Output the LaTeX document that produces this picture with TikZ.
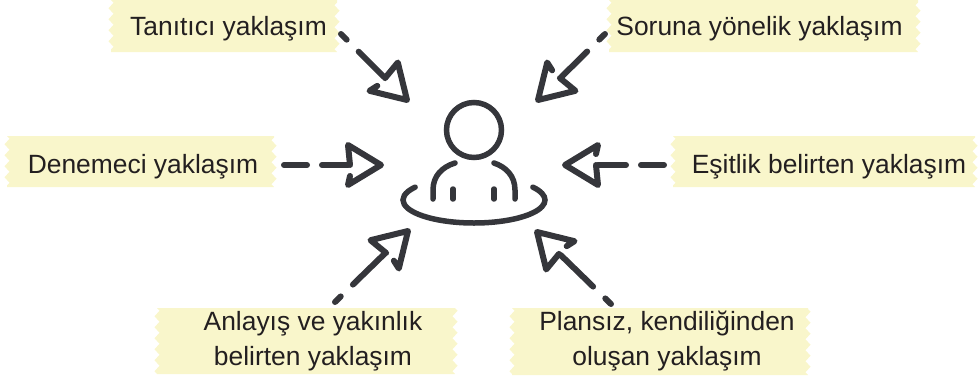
\documentclass[tikz,border=0pt]{standalone}
\usepackage{fontspec}
\setmainfont{Liberation Sans}
\usepackage{tikz}
\usetikzlibrary{calc,backgrounds,decorations.pathmorphing}
\definecolor{TapeFill}{HTML}{F9F6CB}
\definecolor{InkDark}{HTML}{35363B}
\definecolor{TextDark}{HTML}{231F20}
\tikzset{
    tape/.style = {fill=TapeFill, decoration={zigzag, segment length=11pt, amplitude=2.5pt}},
    lbl/.style = {anchor=base, align=center, text=TextDark, inner sep=0pt, font=\fontsize{26.4}{35}\selectfont},
    flow/.style = {draw=InkDark, line width=6pt, line cap=round},
    flowdiag/.style = {flow, dash pattern=on 8pt off 17pt on 200pt, shorten >=33pt},
    flowflat/.style = {flow, dash pattern=on 23pt off 15pt on 200pt, shorten >=33pt},
    head/.style = {draw=InkDark, line width=6pt, line cap=round, line join=round},
    body/.style = {draw=InkDark, line width=5.5pt, line cap=round}
}
\def\openhead{%
    (-31,11) -- (-33,20) -- (0,0) -- (-33,-20) -- (-31,0)
}
\begin{document}
\begin{tikzpicture}[x=1pt,y=-1pt]
    \useasboundingbox (0,0) rectangle (978,380);
    \foreach \xa/\ya/\xb/\yb in {111/0/337/52, 609/0/918/52, 7/136/274/187, 673/136/975/187, 157/308/455/374, 512/308/808/375}
        \fill [tape] (\xa,\ya) decorate {-- (\xa,\yb)} -- (\xb,\yb) decorate {-- (\xb,\ya)} -- cycle;
    \node [lbl] (tanitici) at (228.5,35) {Tanıtıcı yaklaşım};
    \node [lbl] (soruna) at (759.5,35) {Soruna yönelik yaklaşım};
    \node [lbl] (denemeci) at (143,173) {Denemeci yaklaşım};
    \node [lbl] (esitlik) at (829,173) {Eşitlik belirten yaklaşım};
    \node [lbl] (anlayis) at (313,365) {Anlayış ve yakınlık\\belirten yaklaşım};
    \node [lbl] (plansiz) at (667,365) {Plansız, kendiliğinden\\oluşan yaklaşım};
    % person in the middle
    \node [body, circle, draw, minimum size=55pt, inner sep=0pt] (kafa) at (474,130) {};
    \draw [body] (455,163) .. controls (442,167) and (433,176) .. (433,190) -- (433,199);
    \draw [body] (494,163) .. controls (506,167) and (515,176) .. (515,190) -- (515,199);
    \draw [body] (453,189) -- (453,199);
    \draw [body] (494,189) -- (494,199);
    \draw [body] (474,200) ++(146:71pt and 23pt) arc [start angle=146, end angle=394, x radius=71pt, y radius=23pt];
    % tails and tips
    \coordinate (tail1) at (341,34);
    \coordinate (tip1) at (407,100);
    \coordinate (tail2) at (605,34);
    \coordinate (tip2) at (538,100);
    \coordinate (tail3) at (284,165);
    \coordinate (tip3) at (381,165);
    \coordinate (tail4) at (664,165);
    \coordinate (tip4) at (565,165);
    \coordinate (tail5) at (335,302);
    \coordinate (tip5) at (408,231);
    \coordinate (tail6) at (611,304);
    \coordinate (tip6) at (537,232);
    \draw [flowdiag] (tail1) -- (tip1);
    \draw [flowdiag] (tail2) -- (tip2);
    \draw [flowflat] (tail3) -- (tip3);
    \draw [flowflat] (tail4) -- (tip4);
    \draw [flowdiag] (tail5) -- (tip5);
    \draw [flowdiag] (tail6) -- (tip6);
    \draw [head, shift={(tip1)}, rotate=-45] \openhead;
    \draw [head, shift={(tip2)}, rotate=-135] \openhead;
    \draw [head, shift={(tip3)}] \openhead;
    \draw [head, shift={(tip4)}, rotate=180] \openhead;
    \draw [head, shift={(tip5)}, rotate=45] \openhead;
    \draw [head, shift={(tip6)}, rotate=135] \openhead;
\end{tikzpicture}
\end{document}
